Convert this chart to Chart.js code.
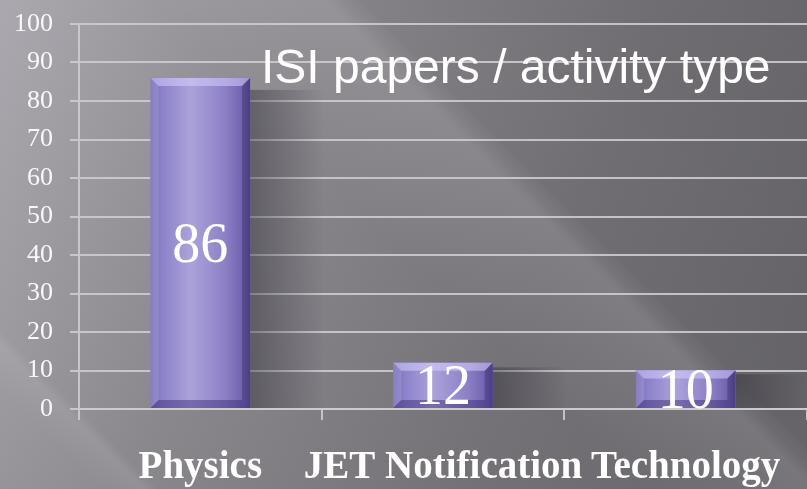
<!DOCTYPE html>
<html>
<head>
<meta charset="utf-8">
<script src="https://cdn.jsdelivr.net/npm/chart.js@4.4.0/dist/chart.umd.min.js"></script>
<style>
    html, body { margin: 0; padding: 0; background: #858288; }
    #wrap { width: 807px; height: 489px; }
</style>
</head>
<body>
<div id="wrap"><canvas id="papersChart" width="807" height="489"></canvas></div>
<script>
// chart data
const categories = ['Physics', 'JET Notification', 'Technology'];
const papers = [86, 12, 10];
const yTicks = [0, 10, 20, 30, 40, 50, 60, 70, 80, 90, 100];
const chartTitle = 'ISI papers / activity type';

const gridColor = 'rgba(205,203,208,0.9)';

// gray slide background with diagonal light streaks
const backdrop = {
    id: 'backdrop',
    beforeDraw(chart) {
        const c = chart.ctx, w = chart.width, h = chart.height;
        c.save();
        const g = c.createLinearGradient(0, 0, w, h * 0.7);
        g.addColorStop(0, '#aba8af');
        g.addColorStop(0.35, '#8a878d');
        g.addColorStop(0.7, '#747177');
        g.addColorStop(1, '#69676c');
        c.fillStyle = g;
        c.fillRect(0, 0, w, h);
        // streaks run along x - y = const; t = (x - y + 500) / 1307
        const s = c.createLinearGradient(0, 500, 653.5, -153.5);
        const at = d => (d + 500) / 1307;
        s.addColorStop(0, 'rgba(255,255,255,0)');
        s.addColorStop(at(-390), 'rgba(255,255,255,0.02)');
        s.addColorStop(at(-345), 'rgba(255,255,255,0.09)');
        s.addColorStop(at(-330), 'rgba(255,255,255,0)');
        s.addColorStop(at(150), 'rgba(255,255,255,0)');
        s.addColorStop(at(325), 'rgba(255,255,255,0.10)');
        s.addColorStop(at(345), 'rgba(255,255,255,0.02)');
        s.addColorStop(at(360), 'rgba(0,0,0,0.03)');
        s.addColorStop(1, 'rgba(0,0,0,0.05)');
        c.fillStyle = s;
        c.fillRect(0, 0, w, h);
        c.restore();
    },
    beforeDatasetsDraw(chart) {
        // soft shadow to the right of each bar
        const c = chart.ctx;
        c.save();
        chart.getDatasetMeta(0).data.forEach(bar => {
            const p = bar.getProps(['x', 'y', 'base', 'width'], true);
            const r = p.x + p.width / 2;
            const off = Math.min(12, (p.base - p.y) * 0.1);
            const g = c.createLinearGradient(r, 0, r + 75, 0);
            g.addColorStop(0, 'rgba(40,38,48,0.42)');
            g.addColorStop(1, 'rgba(40,38,48,0)');
            c.fillStyle = g;
            c.fillRect(r, p.y + off, 75, p.base - p.y - off);
        });
        c.restore();
    }
};

// bevelled purple bars, value labels and slide title
const bevel = {
    id: 'bevel',
    afterDatasetsDraw(chart) {
        const c = chart.ctx;
        c.save();
        chart.getDatasetMeta(0).data.forEach((bar, i) => {
            const p = bar.getProps(['x', 'y', 'base', 'width'], true);
            const l = p.x - p.width / 2, r = p.x + p.width / 2, t = p.y, b = p.base;
            const bv = Math.min(8, (b - t) / 3);
            const g = c.createLinearGradient(l, 0, r, 0);
            g.addColorStop(0, '#786cb9');
            g.addColorStop(0.12, '#8c82ca');
            g.addColorStop(0.4, '#aba2da');
            g.addColorStop(0.75, '#8d80c6');
            g.addColorStop(0.94, '#6e60ad');
            g.addColorStop(1, '#5c4e98');
            c.fillStyle = g;
            c.fillRect(l, t, r - l, b - t);
            const quad = (pts, col) => {
                c.fillStyle = col;
                c.beginPath();
                c.moveTo(pts[0], pts[1]);
                for (let k = 2; k < pts.length; k += 2) c.lineTo(pts[k], pts[k + 1]);
                c.closePath();
                c.fill();
            };
            quad([l, t, r, t, r - bv, t + bv, l + bv, t + bv], 'rgba(215,208,255,0.55)');
            quad([l, b, r, b, r - bv, b - bv, l + bv, b - bv], 'rgba(55,40,115,0.45)');
            quad([l, t, l + bv, t + bv, l + bv, b - bv, l, b], 'rgba(255,255,255,0.12)');
            quad([r, t, r - bv, t + bv, r - bv, b - bv, r, b], 'rgba(45,30,95,0.35)');

            // value label
            c.fillStyle = '#ffffff';
            c.font = '56px "Liberation Serif", serif';
            c.textAlign = 'center';
            c.textBaseline = 'alphabetic';
            c.fillText(String(papers[i]), p.x, (t + b) / 2 + 19);
        });
        c.restore();
    },
    afterDraw(chart) {
        const c = chart.ctx;
        c.save();
        c.fillStyle = '#ffffff';
        c.font = '48px "Liberation Sans", Arial, sans-serif';
        c.textAlign = 'left';
        c.textBaseline = 'alphabetic';
        c.fillText(chartTitle, 261, 83);
        c.restore();
    }
};

const ctx = document.getElementById('papersChart').getContext('2d');
new Chart(ctx, {
    type: 'bar',
    data: {
        labels: categories,
        datasets: [{
            label: chartTitle,
            data: papers,
            backgroundColor: '#8c82ca',
            borderWidth: 0,
            categoryPercentage: 1,
            barPercentage: 0.41
        }]
    },
    plugins: [backdrop, bevel],
    options: {
        responsive: false,
        animation: false,
        events: [],
        layout: { padding: { top: 24, right: 0, left: 0, bottom: 0 } },
        plugins: {
            legend: { display: false },
            title: { display: false },
            tooltip: { enabled: false }
        },
        scales: {
            x: {
                offset: true,
                grid: { drawOnChartArea: false, drawTicks: true, tickLength: 11, color: gridColor, lineWidth: 2 },
                border: { color: gridColor, width: 2 },
                ticks: {
                    color: '#ffffff',
                    padding: 25,
                    maxRotation: 0,
                    minRotation: 0,
                    autoSkip: false,
                    font: { family: '"Liberation Serif", serif', size: 39, weight: 'bold' }
                },
                afterFit: s => { s.height = 80; }
            },
            y: {
                min: 0,
                max: 100,
                afterBuildTicks: s => { s.ticks = yTicks.map(v => ({ value: v })); },
                grid: { color: gridColor, lineWidth: 2, tickLength: 9 },
                border: { color: gridColor, width: 2 },
                ticks: {
                    color: '#f8f8f8',
                    padding: 17,
                    font: { family: '"Liberation Serif", serif', size: 26 }
                },
                afterFit: s => { s.width = 79; s.paddingTop = 0; s.paddingBottom = 0; }
            }
        }
    }
});
</script>
</body>
</html>
